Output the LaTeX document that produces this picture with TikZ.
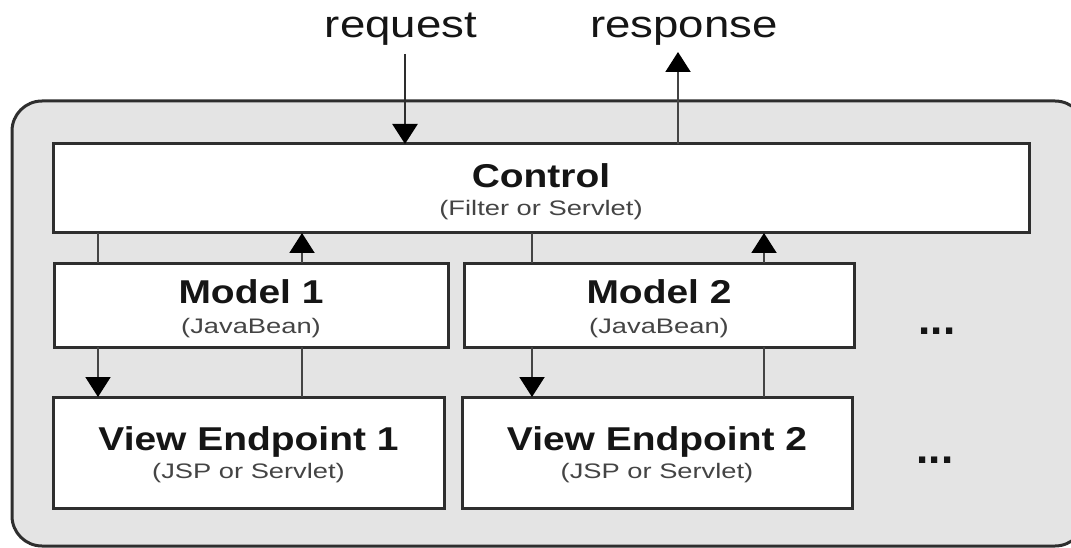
\documentclass[tikz,border=0pt]{standalone}
\usepackage{fontspec}
\usepackage{graphicx}
\setmainfont{Liberation Sans}
\usetikzlibrary{arrows.meta}

\definecolor{panelfill}{HTML}{E4E4E4}
\definecolor{edge}{HTML}{2E2E2E}
\definecolor{wire}{HTML}{444444}
\definecolor{titleink}{HTML}{151515}
\definecolor{subink}{HTML}{444444}

% horizontally widened text
\newcommand{\wideA}[1]{\scalebox{1.18}[1]{#1}}
\newcommand{\wideB}[1]{\scalebox{1.3}[1]{#1}}
\newcommand{\wideC}[1]{\scalebox{1.2}[1]{#1}}

\tikzset{
  box/.style={draw=edge, fill=white, line width=3pt, rectangle,
              inner sep=0pt, outer sep=0pt},
  title/.style={anchor=base, inner sep=0pt, text=titleink,
                font=\fontsize{33}{40}\selectfont\bfseries},
  sub/.style={anchor=base, inner sep=0pt, text=subink,
              font=\fontsize{21}{26}\selectfont},
  io/.style={anchor=base, inner sep=0pt, text=titleink,
             font=\fontsize{38}{46}\selectfont},
  more/.style={anchor=base, inner sep=0pt, text=titleink,
               font=\fontsize{44}{50}\selectfont\bfseries},
  link/.style={draw=wire, line width=2pt},
  flow/.style={link, -{Triangle[length=20pt, width=25pt, color=black, fill=black]}},
}

\begin{document}
\begin{tikzpicture}[x=1pt, y=-1pt]
  \useasboundingbox (0,0) rectangle (1071,548);
  \clip (0,0) rectangle (1071,548);

  % container
  \draw[draw=edge, fill=panelfill, line width=3pt, rounded corners=30pt]
    (12,101) rectangle (1085,546);

  % components
  \node[box, minimum width=976pt, minimum height=89pt] (ctrl) at (541,188.5) {};
  \node[box, minimum width=394pt, minimum height=84pt] (m1) at (251,305) {};
  \node[box, minimum width=390pt, minimum height=84pt] (m2) at (659,305) {};
  \node[box, minimum width=391pt, minimum height=111pt] (v1) at (248.5,452.5) {};
  \node[box, minimum width=390pt, minimum height=111pt] (v2) at (657,452.5) {};

  % labels
  \node[title] (ctrlT) at (541,188) {\wideA{Control}};
  \node[sub]   (ctrlS) at (541,215.5) {\wideB{(Filter or Servlet)}};
  \node[title] (m1T) at (251,303) {\wideA{Model 1}};
  \node[sub]   (m1S) at (251,333.5) {\wideB{(JavaBean)}};
  \node[title] (m2T) at (659,303) {\wideA{Model 2}};
  \node[sub]   (m2S) at (659,333.5) {\wideB{(JavaBean)}};
  \node[title] (v1T) at (248.5,450) {\wideA{View Endpoint 1}};
  \node[sub]   (v1S) at (248.5,478.5) {\wideB{(JSP or Servlet)}};
  \node[title] (v2T) at (657,450) {\wideA{View Endpoint 2}};
  \node[sub]   (v2S) at (657,478.5) {\wideB{(JSP or Servlet)}};
  \node[more]  (dotsA) at (937,334) {...};
  \node[more]  (dotsB) at (935,463) {...};

  \node[io] (req)  at (401,38) {\wideC{request}};
  \node[io] (resp) at (684,38) {\wideC{response}};

  % connector columns
  \coordinate (c1) at (98,0);
  \coordinate (c2) at (302,0);
  \coordinate (c3) at (532,0);
  \coordinate (c4) at (764,0);
  \coordinate (reqtail) at (405,54);
  \coordinate (resptip) at (678,52);

  % request / response
  \draw[flow, draw=edge, line width=2.5pt] (reqtail) -- (ctrl.north -| reqtail);
  \draw[flow] (ctrl.north -| resptip) -- (resptip);

  % first chain
  \draw[link] (ctrl.south -| c1) -- (m1.north -| c1);
  \draw[flow] (m1.north -| c2) -- (ctrl.south -| c2);
  \draw[flow] (m1.south -| c1) -- (v1.north -| c1);
  \draw[link] (v1.north -| c2) -- (m1.south -| c2);

  % second chain
  \draw[link] (ctrl.south -| c3) -- (m2.north -| c3);
  \draw[flow] (m2.north -| c4) -- (ctrl.south -| c4);
  \draw[flow] (m2.south -| c3) -- (v2.north -| c3);
  \draw[link] (v2.north -| c4) -- (m2.south -| c4);
\end{tikzpicture}
\end{document}
